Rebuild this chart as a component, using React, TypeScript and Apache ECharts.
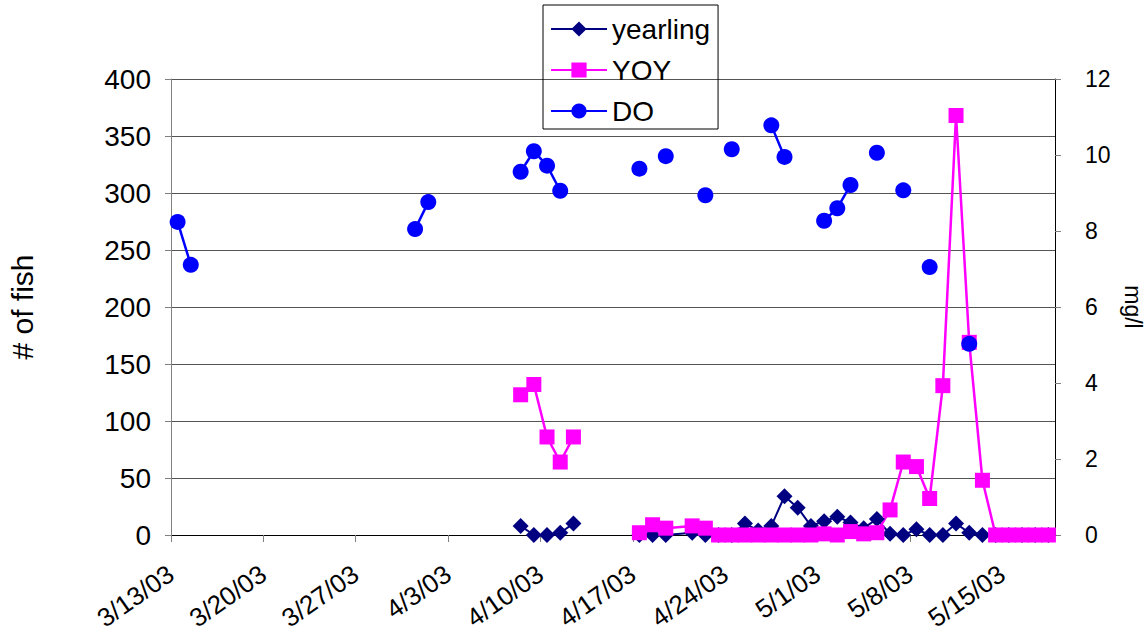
import React, { useEffect, useRef } from "react";
import * as echarts from "echarts";

// Sampling dates (M/D/YY). Rows with every value null break the lines.
const sampleDates: string[] = [
  "3/13/03", "3/14/03", "3/15/03",
  "3/31/03", "4/1/03", "4/2/03",
  "4/8/03", "4/9/03", "4/10/03", "4/11/03", "4/12/03", "4/13/03",
  "4/17/03", "4/18/03", "4/19/03", "4/21/03", "4/22/03", "4/23/03",
  "4/24/03", "4/25/03", "4/26/03", "4/27/03", "4/28/03", "4/29/03",
  "4/30/03", "5/1/03", "5/2/03", "5/3/03", "5/4/03", "5/5/03",
  "5/6/03", "5/7/03", "5/8/03", "5/9/03", "5/10/03", "5/11/03",
  "5/12/03", "5/13/03", "5/14/03", "5/15/03", "5/16/03", "5/17/03",
  "5/18/03",
];

// Catch counts (# of fish)
const yearling: (number | null)[] = [
  null, null, null,
  null, null, null,
  8, 0, 0, 2, 10, null,
  0, 0, 0, 2, 0, 0,
  0, 10, 4, 8, 34, 24,
  8, 12, 16, 11, 6, 14,
  1, 0, 5, 0, 0, 10,
  2, 0, 0, 0, 0, 0,
  0,
];

const yoy: (number | null)[] = [
  null, null, null,
  null, null, null,
  123, 132, 86, 64, 86, null,
  2, 9, 6, 8, 6, 0,
  0, 0, 0, 0, 0, 0,
  0, 1, 0, 3, 1, 2,
  22, 64, 60, 32, 131, 368,
  169, 48, 0, 0, 0, 0,
  0,
];

// Dissolved oxygen (mg/l)
const dissolvedOxygen: (number | null)[] = [
  8.24, 7.11, null,
  8.05, 8.76, null,
  9.56, 10.1, 9.72, 9.06, null, null,
  9.64, null, 9.97, null, 8.94, null,
  10.15, null, null, 10.78, 9.95, null,
  null, 8.27, 8.6, 9.21, null, 10.06,
  null, 9.07, null, 7.05, null, null,
  5.03, null, null, null, null, null,
  null,
];

// Weekly date-axis labels
const xTickLabels: string[] = [
  "3/13/03", "3/20/03", "3/27/03", "4/3/03", "4/10/03",
  "4/17/03", "4/24/03", "5/1/03", "5/8/03", "5/15/03",
];

const FONT = "'Liberation Sans', Arial, sans-serif";

function dayIndex(s: string): number {
  const [m, d, y] = s.split("/").map(Number);
  const [m0, d0, y0] = xTickLabels[0].split("/").map(Number);
  return (Date.UTC(2000 + y, m - 1, d) - Date.UTC(2000 + y0, m0 - 1, d0)) / 86400000;
}

// Each date occupies a one-day slot; points sit in the middle of the slot.
function toPoints(values: (number | null)[]) {
  return sampleDates.map((s, i) => [
    dayIndex(s) + 0.5,
    values[i] === null ? "-" : values[i],
  ]);
}

export default function App() {
  const ref = useRef<HTMLDivElement>(null);

  useEffect(() => {
    if (!ref.current) return;
    const chart = echarts.init(ref.current, undefined, { renderer: "svg" });
    const lastDay = dayIndex("5/19/03");

    chart.setOption({
      animation: false,
      backgroundColor: "#ffffff",
      textStyle: { fontFamily: FONT, color: "#000" },
      grid: {
        left: 171,
        right: 91,
        top: 79,
        bottom: 103,
        containLabel: false,
        outerBoundsMode: "none",
      },
      legend: {
        orient: "vertical",
        left: 543,
        top: 5,
        itemWidth: 56,
        itemHeight: 19,
        itemGap: 13,
        itemTextGap: 6,
        padding: [10, 8, 4, 7],
        borderColor: "#000",
        borderWidth: 1,
        textStyle: { fontFamily: FONT, fontSize: 28, color: "#000" },
        data: ["yearling", "YOY", "DO"],
      },
      xAxis: {
        type: "value",
        min: 0,
        max: lastDay,
        interval: 7,
        axisLine: { show: true, lineStyle: { color: "#000", width: 1 } },
        axisTick: { show: true, length: 7, lineStyle: { color: "#808080" } },
        splitLine: { show: false },
        axisLabel: {
          rotate: 35,
          margin: 36,
          fontSize: 26,
          fontFamily: FONT,
          color: "#000",
          showMaxLabel: false,
          formatter: (v: number) => {
            const k = Math.round(v / 7);
            return Math.abs(v - k * 7) < 1e-6 && k < xTickLabels.length ? xTickLabels[k] : "";
          },
        },
      },
      yAxis: [
        {
          type: "value",
          min: 0,
          max: 400,
          interval: 50,
          name: "# of fish",
          nameLocation: "middle",
          nameRotate: 90,
          nameGap: 134,
          nameTextStyle: { fontSize: 30, fontFamily: FONT, color: "#000" },
          axisLine: { show: true, lineStyle: { color: "#808080", width: 1 } },
          axisTick: { show: true, length: 6, lineStyle: { color: "#808080" } },
          axisLabel: { fontSize: 28, fontFamily: FONT, color: "#000", margin: 20 },
          splitLine: { show: true, lineStyle: { color: "#555", width: 1 } },
        },
        {
          type: "value",
          position: "right",
          min: 0,
          max: 12,
          interval: 2,
          name: "mg/l",
          nameLocation: "middle",
          nameRotate: -90,
          nameGap: 62,
          nameTextStyle: { fontSize: 23, fontFamily: FONT, color: "#000" },
          axisLine: { show: true, lineStyle: { color: "#000", width: 1 } },
          axisTick: { show: true, length: 6, lineStyle: { color: "#808080" } },
          axisLabel: { fontSize: 23, fontFamily: FONT, color: "#000", margin: 30 },
          splitLine: { show: false },
        },
      ],
      series: [
        {
          name: "yearling",
          type: "line",
          yAxisIndex: 0,
          data: toPoints(yearling),
          connectNulls: false,
          symbol: "diamond",
          symbolSize: 16,
          color: "#000080",
          lineStyle: { color: "#000080", width: 2 },
          itemStyle: { color: "#000080" },
        },
        {
          name: "YOY",
          type: "line",
          yAxisIndex: 0,
          data: toPoints(yoy),
          connectNulls: false,
          symbol: "rect",
          symbolSize: 15,
          color: "#ff00ff",
          lineStyle: { color: "#ff00ff", width: 2.5 },
          itemStyle: { color: "#ff00ff" },
        },
        {
          name: "DO",
          type: "line",
          yAxisIndex: 1,
          data: toPoints(dissolvedOxygen),
          connectNulls: false,
          symbol: "circle",
          symbolSize: 16,
          color: "#0000ff",
          lineStyle: { color: "#0000ff", width: 2.5 },
          itemStyle: { color: "#0000ff" },
        },
      ],
    });

    return () => chart.dispose();
  }, []);

  return (
    <div
      ref={ref}
      style={{ position: "fixed", left: 0, top: 0, width: 1146, height: 638, background: "#fff" }}
    />
  );
}
